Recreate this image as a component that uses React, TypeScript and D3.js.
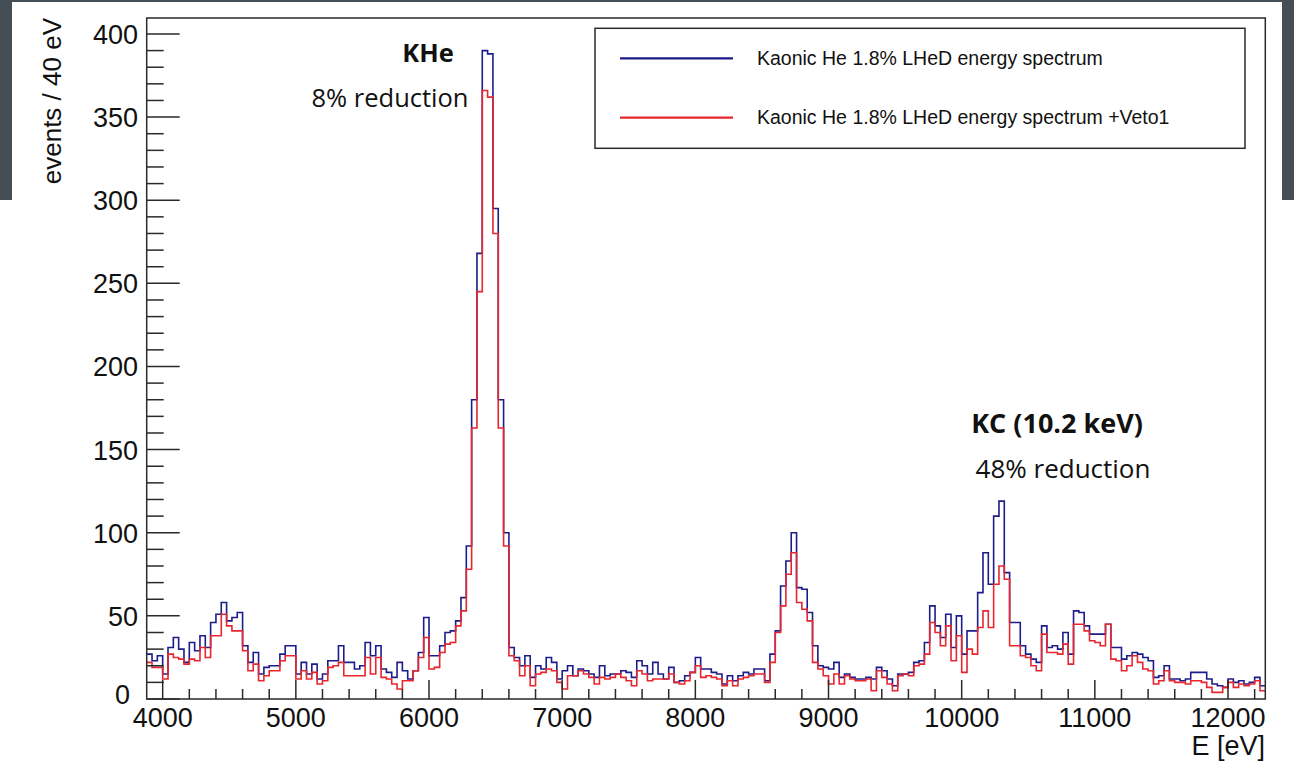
import React from "react";
import * as d3 from "d3";

const binStart = 3880;
const binWidth = 40;

const vetoOff: number[] = [
  27, 23, 26, 15, 31, 37, 30, 22, 34, 29,
  38, 31, 46, 51, 58, 47, 49, 52, 32, 22,
  28, 15, 19, 20, 20, 27, 32, 32, 15, 22,
  15, 21, 12, 15, 23, 23, 32, 22, 22, 18,
  20, 34, 26, 32, 18, 16, 13, 22, 17, 12,
  17, 28, 49, 26, 26, 32, 40, 41, 47, 61,
  92, 180, 268, 390, 388, 295, 180, 100, 31, 25,
  20, 26, 13, 20, 18, 25, 22, 12, 17, 20,
  14, 18, 17, 15, 13, 20, 14, 15, 15, 17,
  16, 13, 23, 20, 15, 22, 15, 12, 19, 10,
  11, 14, 16, 25, 18, 18, 16, 15, 9, 14,
  11, 14, 16, 15, 18, 18, 11, 27, 41, 68,
  83, 100, 67, 66, 52, 32, 20, 19, 18, 22,
  13, 15, 13, 12, 12, 13, 12, 19, 17, 12,
  8, 15, 15, 16, 22, 23, 34, 56, 44, 37,
  51, 31, 50, 27, 41, 41, 64, 88, 69, 110,
  119, 76, 46, 46, 32, 27, 24, 22, 44, 31,
  32, 30, 40, 27, 53, 52, 44, 39, 39, 39,
  45, 31, 31, 24, 26, 28, 27, 25, 23, 13,
  14, 20, 12, 12, 11, 12, 16, 16, 16, 12,
  9, 8, 7, 12, 10, 11, 9, 10, 13, 8,
];

const vetoOn: number[] = [
  22, 19, 19, 12, 27, 25, 24, 21, 24, 23,
  31, 25, 38, 38, 51, 44, 41, 41, 29, 17,
  21, 11, 14, 17, 17, 23, 26, 26, 12, 17,
  12, 16, 9, 11, 19, 20, 22, 14, 14, 14,
  14, 25, 15, 25, 13, 12, 9, 6, 11, 11,
  17, 25, 37, 18, 19, 28, 33, 34, 44, 53,
  78, 163, 245, 366, 362, 280, 163, 92, 26, 23,
  14, 20, 8, 15, 16, 18, 17, 10, 6, 14,
  14, 17, 15, 13, 9, 13, 12, 13, 15, 13,
  11, 8, 17, 15, 11, 12, 12, 12, 15, 10,
  9, 11, 16, 20, 13, 14, 13, 12, 8, 11,
  8, 12, 13, 14, 15, 15, 10, 22, 40, 56,
  75, 88, 58, 54, 47, 22, 18, 14, 9, 15,
  9, 14, 12, 11, 11, 12, 5, 17, 13, 9,
  5, 14, 15, 14, 20, 21, 27, 46, 40, 32,
  44, 23, 38, 16, 30, 27, 43, 53, 43, 69,
  80, 72, 32, 32, 26, 25, 20, 17, 39, 28,
  28, 27, 33, 21, 45, 45, 41, 35, 34, 32,
  45, 24, 23, 17, 20, 26, 22, 18, 17, 9,
  11, 17, 11, 10, 10, 9, 11, 11, 10, 7,
  4, 4, 7, 10, 7, 9, 8, 9, 11, 5,
];

const xMajorTicks = [4000, 5000, 6000, 7000, 8000, 9000, 10000, 11000, 12000];
const yMajorTicks = [0, 50, 100, 150, 200, 250, 300, 350, 400];
const legendLabels = [
  "Kaonic He 1.8% LHeD energy spectrum",
  "Kaonic He 1.8% LHeD energy spectrum +Veto1",
];
const seriesColors = ["#1c1c8a", "#e8262e"];

const W = 1294;
const H = 761;
const xMin = binStart;
const xMax = binStart + binWidth * vetoOff.length;

export default function App() {
  const x = d3.scaleLinear().domain([xMin, xMax]).range([146.7, 1265.3]);
  const y = d3.scaleLinear().domain([0, 409.6]).range([699, 18]);

  const histPath = (vals: number[]) => {
    const pts: [number, number][] = vals.map((v, i) => [binStart + i * binWidth, v]);
    pts.push([xMax, vals[vals.length - 1]]);
    return d3
      .line<[number, number]>()
      .x((d) => x(d[0]))
      .y((d) => y(d[1]))
      .curve(d3.curveStepAfter)(pts) as string;
  };

  const xMinor = d3.range(4000, xMax + 1, 200).filter((t) => t % 1000 !== 0);
  const yMinor = d3.range(0, 409.6, 10).filter((t) => t % 50 !== 0);

  const axisFont = "'Liberation Sans', Arial, Helvetica, sans-serif";
  const annFont = "'Open Sans', 'Noto Sans', sans-serif";
  const frameColor = "#2a2a2a";

  return (
    <svg
      width={W}
      height={H}
      style={{ position: "absolute", left: 0, top: 0, display: "block" }}
    >
      <rect x={0} y={0} width={W} height={H} fill="#454e55" />
      <rect x={12} y={2} width={1270} height={H} fill="#ffffff" />
      <rect x={0} y={200} width={W} height={H - 200} fill="#ffffff" />

      {/* histograms */}
      <path d={histPath(vetoOff)} fill="none" stroke={seriesColors[0]} strokeWidth={1.6} />
      <path d={histPath(vetoOn)} fill="none" stroke={seriesColors[1]} strokeWidth={1.6} />

      {/* frame */}
      <rect
        x={x(xMin)}
        y={y(409.6)}
        width={x(xMax) - x(xMin)}
        height={y(0) - y(409.6)}
        fill="none"
        stroke={frameColor}
        strokeWidth={1.5}
      />

      {/* x ticks */}
      {xMajorTicks.map((t) => (
        <line key={"xM" + t} x1={x(t)} x2={x(t)} y1={y(0)} y2={y(0) - 19} stroke={frameColor} strokeWidth={1.5} />
      ))}
      {xMinor.map((t) => (
        <line key={"xm" + t} x1={x(t)} x2={x(t)} y1={y(0)} y2={y(0) - 10} stroke={frameColor} strokeWidth={1.5} />
      ))}
      {xMajorTicks.map((t) => (
        <text key={"xl" + t} x={x(t)} y={727} textAnchor="middle" fontFamily={axisFont} fontSize={27} fill="#111">
          {t}
        </text>
      ))}

      {/* y ticks */}
      {yMajorTicks.map((t) => (
        <line key={"yM" + t} x1={x(xMin)} x2={x(xMin) + 33} y1={y(t)} y2={y(t)} stroke={frameColor} strokeWidth={1.5} />
      ))}
      {yMinor.map((t) => (
        <line key={"ym" + t} x1={x(xMin)} x2={x(xMin) + 17} y1={y(t)} y2={y(t)} stroke={frameColor} strokeWidth={1.5} />
      ))}
      {yMajorTicks.map((t) => (
        <text
          key={"yl" + t}
          x={t === 0 ? 130 : 138}
          y={t === 0 ? y(t) + 5 : y(t) + 10}
          textAnchor="end"
          fontFamily={axisFont}
          fontSize={27}
          fill="#111"
        >
          {t}
        </text>
      ))}

      {/* axis titles */}
      <text
        transform="translate(61,18) rotate(-90)"
        textAnchor="end"
        fontFamily={axisFont}
        fontSize={26}
        fill="#111"
      >
        events / 40 eV
      </text>
      <text x={1265} y={755} textAnchor="end" fontFamily={axisFont} fontSize={27} fill="#111">
        E [eV]
      </text>

      {/* legend */}
      <rect x={595} y={28.3} width={650} height={120} fill="#fff" stroke={frameColor} strokeWidth={1.5} />
      {legendLabels.map((lab, i) => {
        const ly = i === 0 ? 58.3 : 117.7;
        return (
          <g key={lab}>
            <line x1={620} x2={733} y1={ly} y2={ly} stroke={seriesColors[i]} strokeWidth={2.2} />
            <text x={757} y={ly + 6.5} fontFamily={axisFont} fontSize={19.5} fill="#111">
              {lab}
            </text>
          </g>
        );
      })}

      {/* annotations */}
      <text x={428} y={61.7} textAnchor="middle" fontFamily={annFont} fontWeight="bold" fontSize={25.5} fill="#111">
        KHe
      </text>
      <text x={390} y={106.7} textAnchor="middle" fontFamily={annFont} fontSize={25.5} fill="#111">
        8% reduction
      </text>
      <text x={1057} y={433} textAnchor="middle" fontFamily={annFont} fontWeight="bold" fontSize={27} fill="#111">
        KC (10.2 keV)
      </text>
      <text x={1063} y={478} textAnchor="middle" fontFamily={annFont} fontSize={26} fill="#111">
        48% reduction
      </text>
    </svg>
  );
}
